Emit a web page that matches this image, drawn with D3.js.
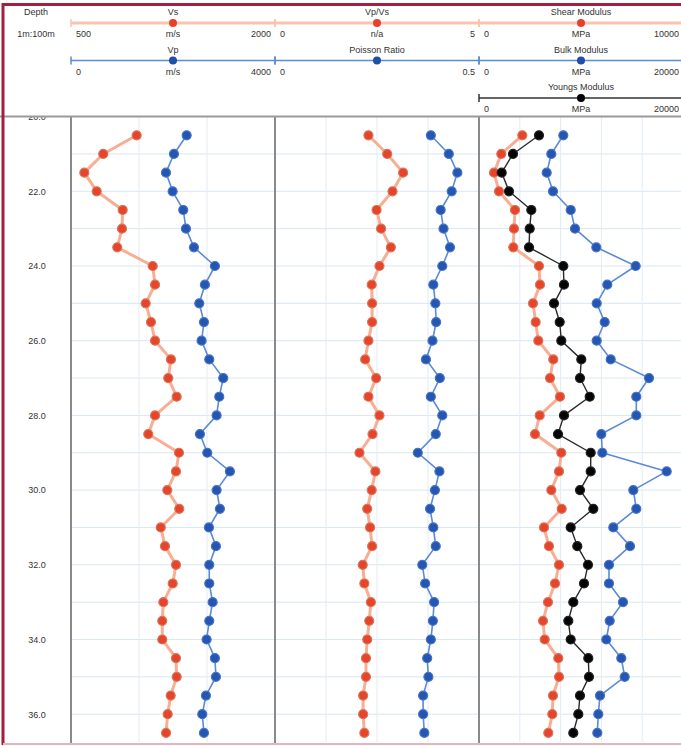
<!DOCTYPE html>
<html>
<head>
<meta charset="utf-8">
<script src="https://cdn.jsdelivr.net/npm/d3@7"></script>
<style>
  html, body { margin: 0; padding: 0; background: #fff; }
  svg { display: block; font-family: "Liberation Sans", Arial, sans-serif; }
</style>
</head>
<body>
<svg id="chart" width="681" height="746"></svg>
<script>
// ---------------- DATA ----------------
const depth = [20.5, 21.0, 21.5, 22.0, 22.5, 23.0, 23.5, 24.0, 24.5, 25.0, 25.5,
  26.0, 26.5, 27.0, 27.5, 28.0, 28.5, 29.0, 29.5, 30.0, 30.5, 31.0, 31.5,
  32.0, 32.5, 33.0, 33.5, 34.0, 34.5, 35.0, 35.5, 36.0, 36.5];

const vs = [983, 737, 598, 689, 880, 875, 840, 1101, 1118, 1049, 1088,
  1118, 1235, 1215, 1277, 1118, 1068, 1294, 1272, 1208, 1296, 1160, 1191,
  1272, 1248, 1179, 1171, 1171, 1272, 1277, 1233, 1211, 1199];

const vp = [2268, 2019, 1862, 1993, 2201, 2254, 2411, 2822, 2626, 2515, 2607,
  2561, 2711, 2985, 2907, 2855, 2528, 2672, 3116, 2855, 2920, 2705, 2842,
  2711, 2711, 2777, 2711, 2659, 2822, 2842, 2646, 2574, 2607];

const vpvs = [2.29, 2.75, 3.14, 2.88, 2.49, 2.60, 2.84, 2.56, 2.37, 2.38, 2.38,
  2.29, 2.21, 2.48, 2.29, 2.56, 2.39, 2.07, 2.46, 2.37, 2.26, 2.33, 2.38,
  2.15, 2.19, 2.35, 2.31, 2.26, 2.23, 2.23, 2.16, 2.16, 2.19];

const poisson = [0.382, 0.426, 0.447, 0.433, 0.406, 0.413, 0.429, 0.410, 0.388, 0.393, 0.395,
  0.386, 0.370, 0.404, 0.382, 0.410, 0.394, 0.350, 0.403, 0.392, 0.380, 0.388, 0.394,
  0.361, 0.368, 0.390, 0.387, 0.382, 0.373, 0.376, 0.363, 0.363, 0.366];

const shear = [2123, 1093, 735, 980, 1765, 1716, 1681, 2941, 2990, 2647, 2779,
  2907, 3642, 3480, 3971, 2975, 2745, 4034, 3922, 3544, 4054, 3186, 3431,
  3922, 3725, 3382, 3137, 3221, 3887, 3922, 3627, 3593, 3397];

const bulk = [8265, 7088, 6637, 7255, 8990, 9412, 11500, 15363, 12578, 11539, 12324,
  11539, 12912, 16667, 15422, 15422, 11990, 12088, 18402, 15127, 15422, 13167, 14804,
  12745, 12745, 14118, 12814, 12480, 13951, 14284, 11863, 11696, 11598];

const youngs = [5882, 3333, 2225, 2941, 5127, 4971, 4902, 8265, 8333, 7353, 7912,
  8069, 10029, 9902, 10853, 8333, 7745, 10951, 10951, 9902, 11206, 8990, 9637,
  10686, 10294, 9245, 8755, 8990, 10716, 10784, 9902, 9735, 9245];

const depthTicks = [20, 22, 24, 26, 28, 30, 32, 34, 36];
const depthHeader = ["Depth", "1m:100m"];

// track definitions (curves, ranges, units)
const trackNames = ["track1", "track2", "track3"];
const curveNames = ["Vs", "Vp", "Vp/Vs", "Poisson Ratio", "Shear Modulus", "Bulk Modulus", "Youngs Modulus"];
const curveUnits = ["m/s", "m/s", "n/a", "", "MPa", "MPa", "MPa"];
const curveMin = [500, 0, 0, 0, 0, 0, 0];
const curveMax = [2000, 4000, 5, 0.5, 10000, 20000, 20000];
const curveMinLabel = ["500", "0", "0", "0", "0", "0", "0"];
const curveMaxLabel = ["2000", "4000", "5", "0.5", "10000", "20000", "20000"];
const curveTrack = [0, 0, 1, 1, 2, 2, 2];
const curveRow = [0, 1, 0, 1, 0, 1, 2];
const curveValues = [vs, vp, vpvs, poisson, shear, bulk, youngs];
const curveStyle = ["orange", "blue", "orange", "blue", "orange", "blue", "black"];
const trackGridDivs = [3, 4, 5];

// ---------------- LAYOUT ----------------
const W = 681, H = 746;
const headerBottom = 116.6;
const plotBottom = 742;
const trackEdges = [71, 275, 479, 683];

const svg = d3.select("#chart");

const y = d3.scaleLinear().domain([20, 36.8]).range([headerBottom, headerBottom + 16.8 * 37.35]);

const styles = {
  orange: { line: "#f8ae93", lineW: 3, fill: "#e8432b", stroke: "#d4775a", hline: "#fbc3ad", hlineW: 3, dot: "#e8402a" },
  blue:   { line: "#5a8ad9", lineW: 1.6, fill: "#2456b2", stroke: "#4574c6", hline: "#5a8ad9", hlineW: 1.6, dot: "#1f4fa8" },
  black:  { line: "#2a2a2a", lineW: 1.4, fill: "#050505", stroke: "#222", hline: "#333", hlineW: 1.4, dot: "#000" }
};

const xScales = curveNames.map((n, i) => {
  const t = curveTrack[i];
  return d3.scaleLinear().domain([curveMin[i], curveMax[i]]).range([trackEdges[t], trackEdges[t + 1]]);
});

// ---------------- PLOT AREA ----------------
const defs = svg.append("defs");
defs.append("clipPath").attr("id", "plotclip")
  .append("rect").attr("x", 0).attr("y", headerBottom).attr("width", W).attr("height", plotBottom - headerBottom);

const plot = svg.append("g").attr("clip-path", "url(#plotclip)");

// horizontal grid (every 1 m)
const gridDepths = d3.range(21, 37, 1);
plot.append("g").selectAll("line").data(gridDepths).join("line")
  .attr("x1", trackEdges[0]).attr("x2", W)
  .attr("y1", d => y(d)).attr("y2", d => y(d))
  .attr("stroke", "#d9e6f3").attr("stroke-width", 1);

// vertical grids in tracks
trackNames.forEach((tn, t) => {
  const gx = d3.scaleLinear().domain([0, trackGridDivs[t]]).range([trackEdges[t], trackEdges[t + 1]]);
  const vals = d3.range(1, trackGridDivs[t]);
  plot.append("g").selectAll("line").data(vals).join("line")
    .attr("x1", d => gx(d)).attr("x2", d => gx(d))
    .attr("y1", headerBottom).attr("y2", plotBottom)
    .attr("stroke", "#e2ebf5").attr("stroke-width", 1);
});

// depth axis labels
const depthAxis = d3.axisLeft(y).tickValues(depthTicks).tickFormat(d3.format(".1f")).tickSize(0);
const dAx = plot.append("g").attr("transform", "translate(37,0)").call(depthAxis);
dAx.select(".domain").remove();
dAx.selectAll("text").attr("text-anchor", "middle").attr("dx", 0).attr("x", 0)
  .attr("font-size", 9).attr("fill", "#333").attr("font-family", "Liberation Sans, Arial, sans-serif");

// curves
const order = [0, 1, 2, 3, 4, 6, 5]; // drawing order
order.forEach(i => {
  const st = styles[curveStyle[i]];
  const xs = xScales[i];
  const vals = curveValues[i];
  const pts = depth.map((d, k) => [xs(vals[k]), y(d)]);
  plot.append("path")
    .attr("d", d3.line()(pts))
    .attr("fill", "none").attr("stroke", st.line).attr("stroke-width", st.lineW)
    .attr("stroke-linejoin", "round");
  plot.append("g").selectAll("circle").data(pts).join("circle")
    .attr("cx", p => p[0]).attr("cy", p => p[1]).attr("r", 4.5)
    .attr("fill", st.fill).attr("stroke", st.stroke).attr("stroke-width", 1.2);
});

// track separators
svg.append("g").selectAll("line").data(trackEdges.slice(0, 3)).join("line")
  .attr("x1", d => d).attr("x2", d => d)
  .attr("y1", headerBottom).attr("y2", plotBottom + 2)
  .attr("stroke", "#8a8a8a").attr("stroke-width", 2);

// ---------------- HEADER ----------------
const header = svg.append("g");
header.append("rect").attr("x", 0).attr("y", 0).attr("width", W).attr("height", headerBottom - 1)
  .attr("fill", "#fff");

header.selectAll("text.dh").data(depthHeader).join("text")
  .attr("class", "dh")
  .attr("x", 36).attr("y", (d, i) => 15 + i * 22)
  .attr("text-anchor", "middle").attr("font-size", 9).attr("fill", "#333")
  .text(d => d);

const rowStep = 37.5;
curveNames.forEach((name, i) => {
  const st = styles[curveStyle[i]];
  const t = curveTrack[i];
  const r = curveRow[i];
  const x0 = trackEdges[t], x1 = trackEdges[t + 1];
  const xm = (x0 + x1) / 2;
  const ly = 23 + r * rowStep;
  const g = header.append("g");
  g.append("text").attr("x", xm).attr("y", ly - 8).attr("text-anchor", "middle")
    .attr("font-size", 9).attr("fill", "#333").text(name);
  g.append("line").attr("x1", x0).attr("x2", x1).attr("y1", ly).attr("y2", ly)
    .attr("stroke", st.hline).attr("stroke-width", st.hlineW);
  g.selectAll("line.tk").data([x0, x1]).join("line").attr("class", "tk")
    .attr("x1", d => d).attr("x2", d => d).attr("y1", ly - 4).attr("y2", ly + 4)
    .attr("stroke", st.hline).attr("stroke-width", 1.5);
  g.append("circle").attr("cx", xm).attr("cy", ly).attr("r", 4).attr("fill", st.dot);
  g.append("text").attr("x", x0 + 5).attr("y", ly + 14).attr("text-anchor", "start")
    .attr("font-size", 9).attr("fill", "#333").text(curveMinLabel[i]);
  g.append("text").attr("x", xm).attr("y", ly + 14).attr("text-anchor", "middle")
    .attr("font-size", 9).attr("fill", "#333").text(curveUnits[i]);
  g.append("text").attr("x", x1 - 4).attr("y", ly + 14).attr("text-anchor", "end")
    .attr("font-size", 9).attr("fill", "#333").text(curveMaxLabel[i]);
});

// header separator
svg.append("line").attr("x1", 0).attr("x2", W).attr("y1", headerBottom).attr("y2", headerBottom)
  .attr("stroke", "#9a9a9a").attr("stroke-width", 2);

// frame
svg.append("line").attr("x1", 3).attr("x2", W).attr("y1", 4.5).attr("y2", 4.5)
  .attr("stroke", "#a31f3d").attr("stroke-width", 3);
svg.append("line").attr("x1", 3).attr("x2", 3).attr("y1", 3).attr("y2", 745)
  .attr("stroke", "#a31f3d").attr("stroke-width", 3);
svg.append("line").attr("x1", 3).attr("x2", W).attr("y1", 744).attr("y2", 744)
  .attr("stroke", "#e7b3c1").attr("stroke-width", 2);
</script>
</body>
</html>
